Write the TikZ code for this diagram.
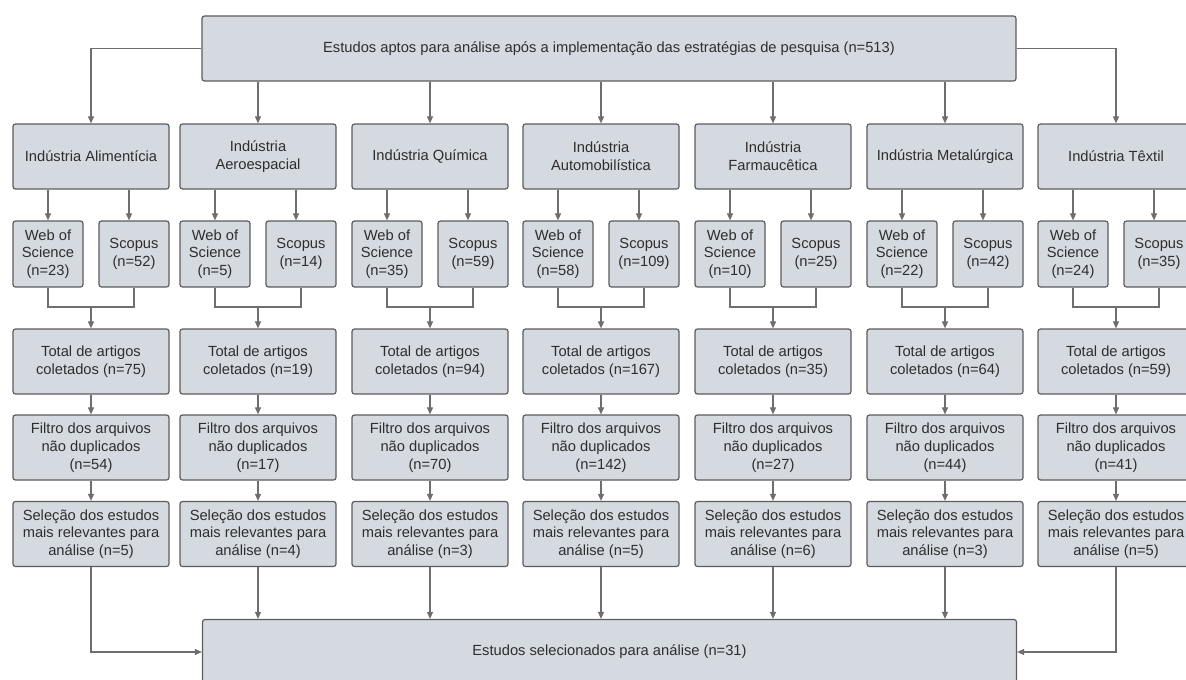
\documentclass[tikz,border=0pt]{standalone}
\usepackage{fontspec}
\setmainfont{Liberation Sans}
\usepackage{xcolor}
\usepackage{tikz}
\usetikzlibrary{positioning, arrows.meta, calc}

\definecolor{boxfill}{HTML}{D5D9E0}
\definecolor{boxline}{HTML}{5C5C5C}
\definecolor{arrline}{HTML}{6E6E6E}
\definecolor{txt}{HTML}{2E2E2E}

\begin{document}
\begin{tikzpicture}[x=1pt, y=-1pt, >={Triangle[length=7pt, width=6pt]},
  box/.style={draw=boxline, fill=boxfill, line width=1.2pt, rounded corners=2.5pt, align=center, inner sep=0pt,
    text=txt, font=\fontsize{14.7}{17.7}\selectfont, minimum width=156pt, minimum height=65pt},
  smallbox/.style={box, minimum width=70pt, minimum height=66pt},
  widebox/.style={box, minimum width=814pt, minimum height=65pt},
  arr/.style={->, draw=arrline, line width=1.1pt},
  link/.style={draw=arrline, line width=1.1pt}]
  \useasboundingbox (0,0) rectangle (1186,680);
  \clip (0,0) rectangle (1186,680);

  % top and bottom boxes
  \node[widebox] (top) at (609,48.5) {Estudos aptos para análise após a implementação das estratégias de pesquisa (n=513)};
  \node[widebox] (bot) at (609.5,652) {Estudos selecionados para análise (n=31)};

  % one column per industry
  \foreach \i/\lx/\name/\wos/\sco/\tot/\fil/\sel in {
      1/13/{Indústria Alimentícia}/23/52/75/54/5,
      2/180/{Indústria\\Aeroespacial}/5/14/19/17/4,
      3/352/{Indústria Química}/35/59/94/70/3,
      4/523/{Indústria\\Automobilística}/58/109/167/142/5,
      5/695/{Indústria\\Farmaucêtica}/10/25/35/27/6,
      6/867/{Indústria Metalúrgica}/22/42/64/44/3,
      7/1038/{Indústria Têxtil}/24/35/59/41/5} {
    \node[box] (ind\i) at (\lx+78,156.5) {\name};
    \node[smallbox] (wos\i) at (\lx+35,254) {Web of\\Science\\(n=\wos)};
    \node[smallbox] (sco\i) at (\lx+121,254) {Scopus\\(n=\sco)};
    \node[box] (tot\i) at (\lx+78,361.5) {Total de artigos\\coletados (n=\tot)};
    \node[box] (fil\i) at (\lx+78,447.5) {Filtro dos arquivos\\não duplicados\\(n=\fil)};
    \node[box] (sel\i) at (\lx+78,534) {Seleção dos estudos\\mais relevantes para\\análise (n=\sel)};
    \coordinate (j\i) at (\lx+78,307);

    \draw[arr] (ind\i.south -| wos\i.north) -- (wos\i.north);
    \draw[arr] ([xshift=-5pt]sco\i.north |- ind\i.south) -- ([xshift=-5pt]sco\i.north);
    \draw[link] (wos\i.south) |- (j\i) -| (sco\i.south);
    \draw[arr] (j\i) -- (tot\i.north);
    \draw[arr] (tot\i) -- (fil\i);
    \draw[arr] (fil\i) -- (sel\i);
  }

  % from the top box
  \draw[arr] (top.west) -| (ind1.north);
  \draw[arr] (top.east) -| (ind7.north);
  \foreach \i in {2,...,6}
    \draw[arr] (top.south -| ind\i.north) -- (ind\i.north);

  % into the bottom box
  \draw[arr] (sel1.south) |- (bot.west);
  \draw[arr] (sel7.south) |- (bot.east);
  \foreach \i in {2,...,6}
    \draw[arr] (sel\i.south) -- (sel\i.south |- bot.north);
\end{tikzpicture}
\end{document}
